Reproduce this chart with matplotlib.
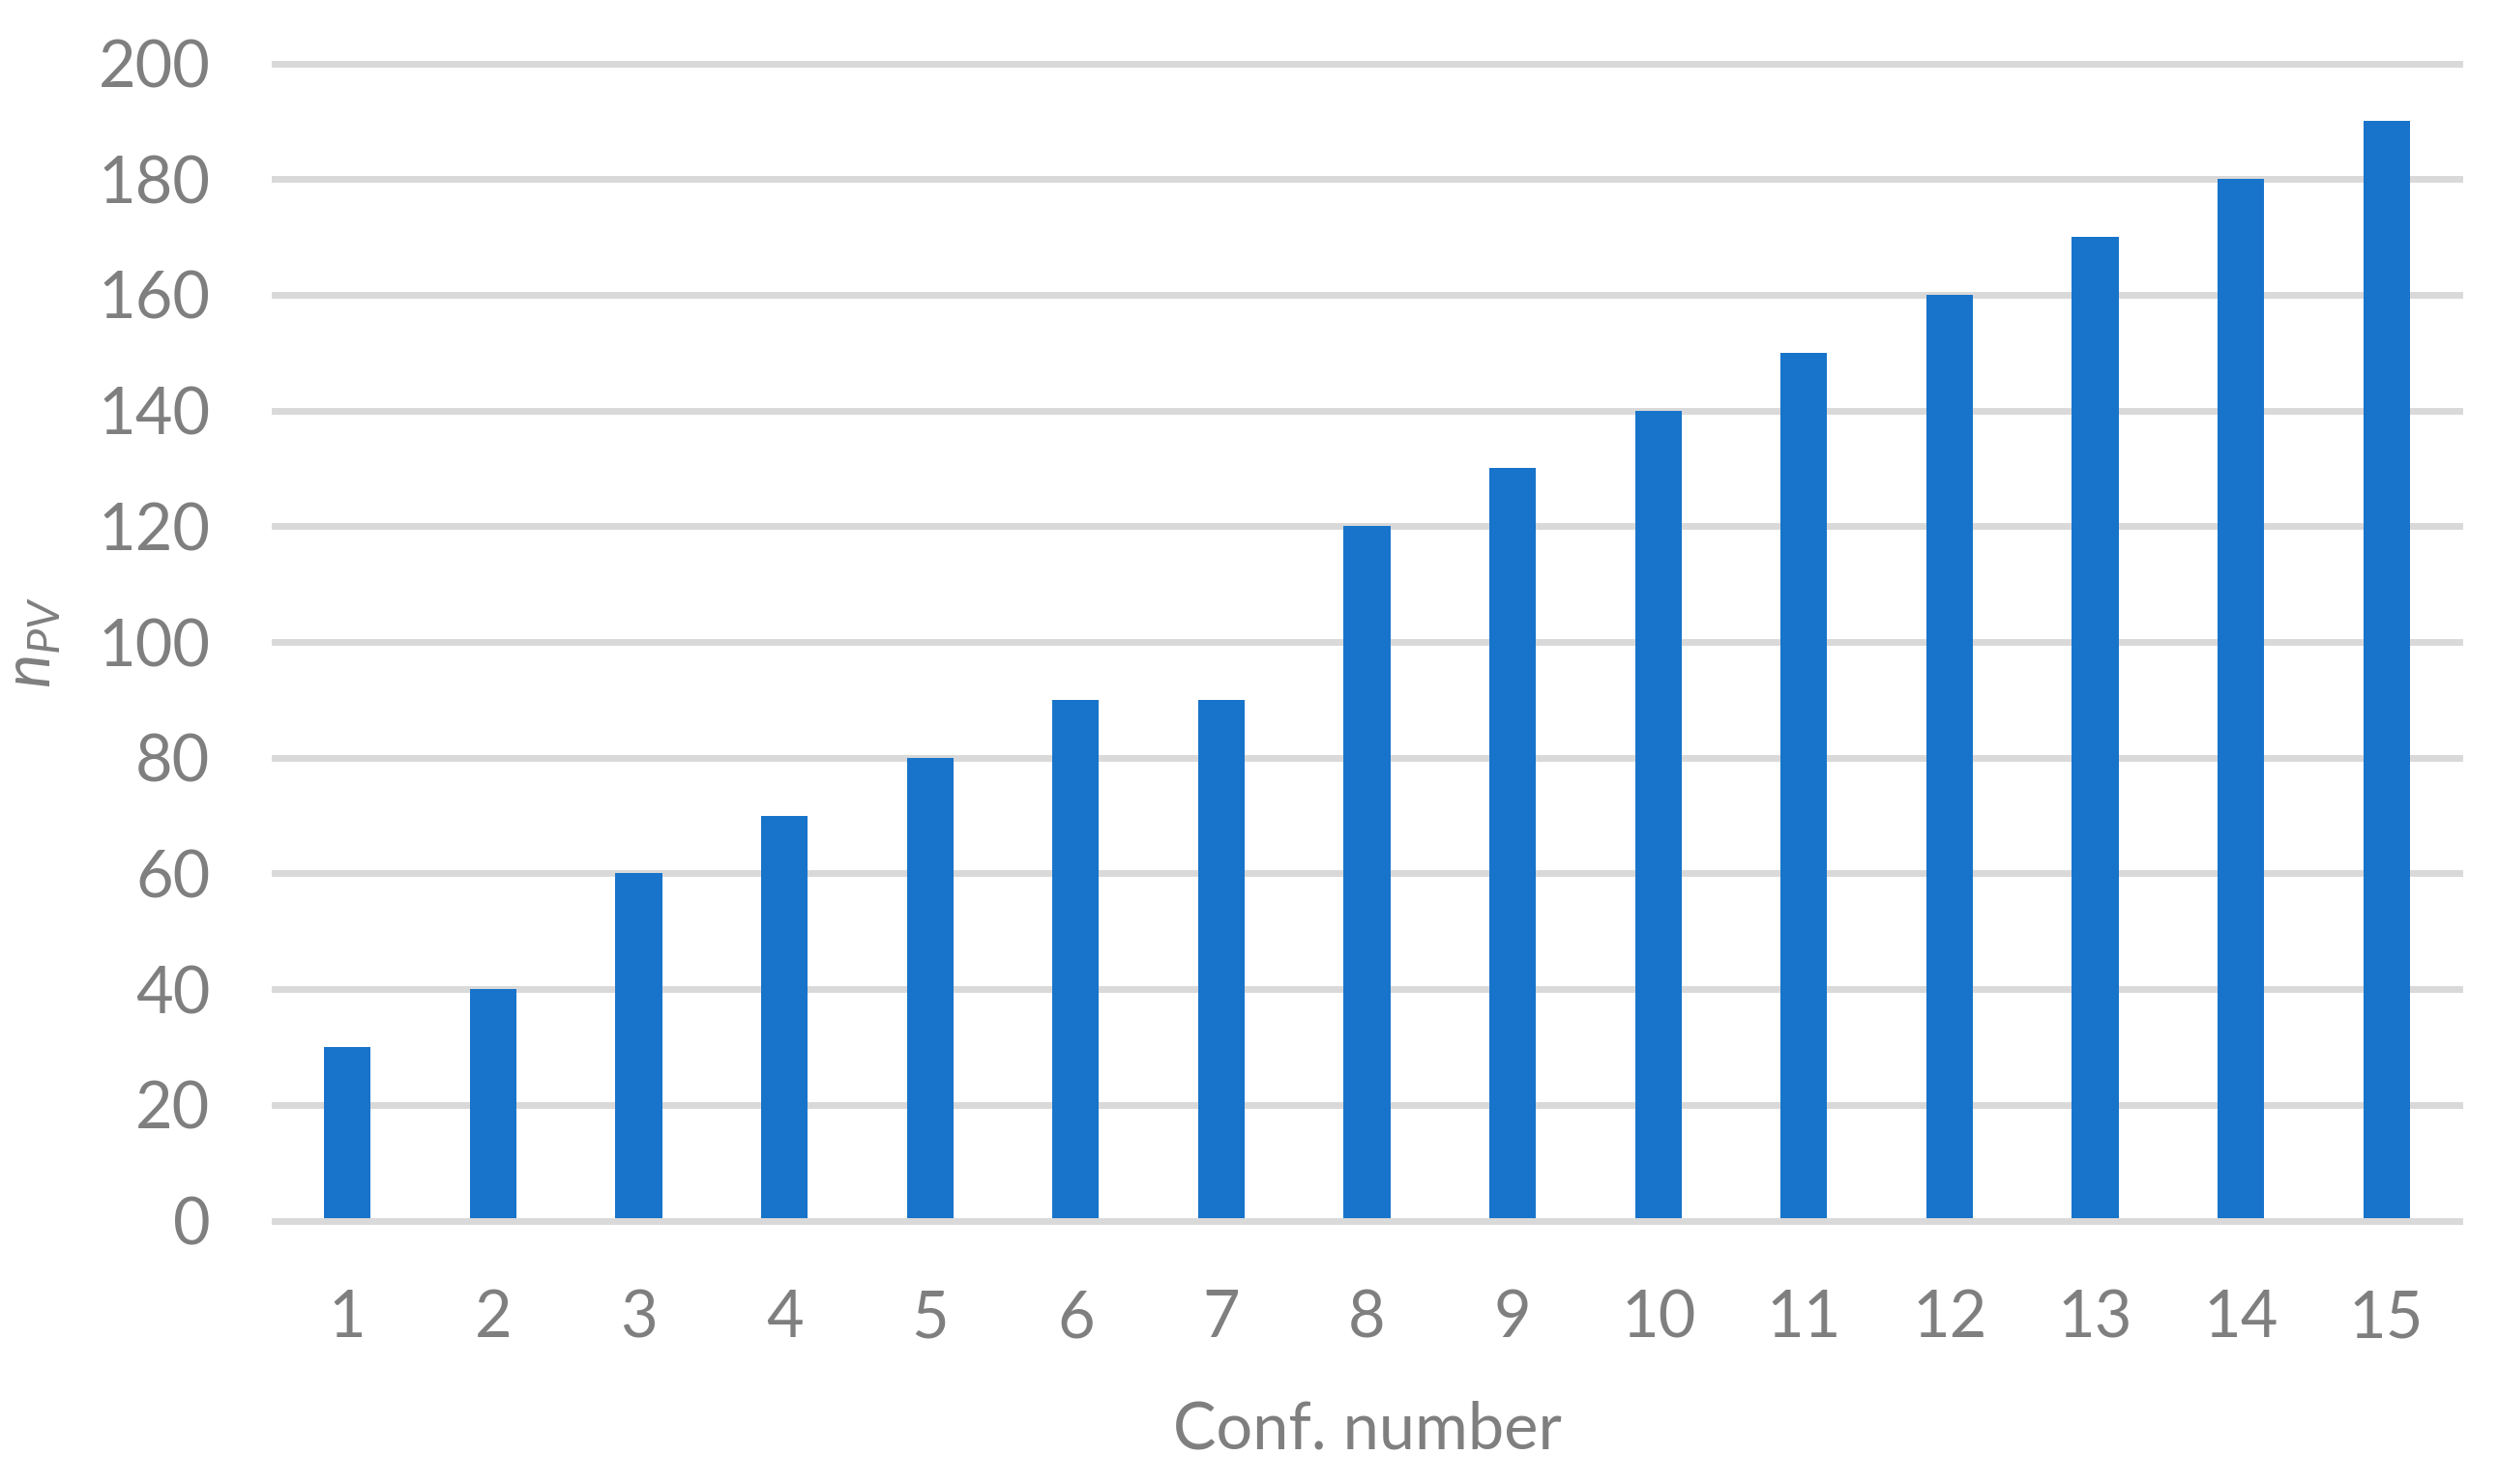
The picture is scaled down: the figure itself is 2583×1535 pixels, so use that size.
import matplotlib
matplotlib.use("Agg")
import matplotlib.pyplot as plt

categories = ["1", "2", "3", "4", "5", "6", "7", "8", "9", "10", "11", "12", "13", "14", "15"]
n_pv = [30, 40, 60, 70, 80, 90, 90, 120, 130, 140, 150, 160, 170, 180, 190]
y_ticks = [0, 20, 40, 60, 80, 100, 120, 140, 160, 180, 200]

plt.rcParams['font.family'] = ['Lato', 'DejaVu Sans']
plt.rcParams['mathtext.fontset'] = 'custom'
plt.rcParams['mathtext.it'] = 'Lato:italic'
plt.rcParams['mathtext.rm'] = 'Lato'

W, H = 2583, 1535
fig = plt.figure(figsize=(W / 100, H / 100), dpi=100)
left, right = 284, 2543
y0, y200 = 1262.5, 65.5
ax = fig.add_axes([left / W, (H - y0) / H, (right - left) / W, (y0 - y200) / H])

text_color = '#7F7F7F'
grid_color = '#D9D9D9'
bar_color = '#1874CA'

x = list(range(len(categories)))
ax.bar(x, n_pv, width=0.32, color=bar_color, zorder=2)
ax.set_xlim(-0.5, len(categories) - 0.5)
ax.set_ylim(0, 200)
ax.set_yticks(y_ticks)
ax.set_xticks(x)
ax.set_xticklabels(categories)

for v in y_ticks:
    ax.axhline(v, color=grid_color, lw=5, zorder=1 if v > 0 else 3, clip_on=False)

for s in ax.spines.values():
    s.set_visible(False)
ax.tick_params(axis='both', length=0, labelsize=48, labelcolor=text_color)
ax.tick_params(axis='y', pad=48)
ax.tick_params(axis='x', pad=51)

ax.set_xlabel('Conf. number', fontsize=48, color=text_color, labelpad=38)
ax.set_ylabel(r'$n_{PV}$', fontsize=48, color=text_color, labelpad=26)

fig.savefig('out.png', dpi=100, facecolor='white')
